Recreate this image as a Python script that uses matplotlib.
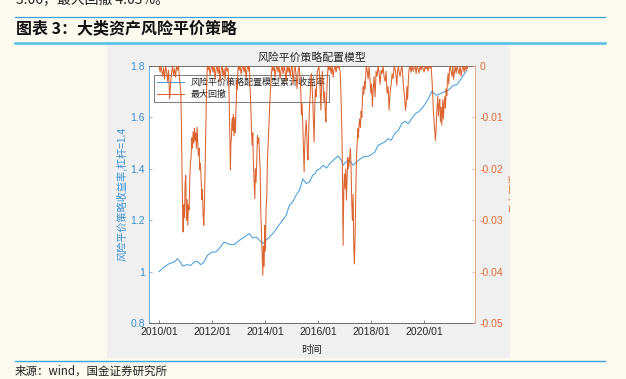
import matplotlib
matplotlib.use("Agg")
import matplotlib.pyplot as plt
import matplotlib.dates as mdates
from matplotlib.patches import Rectangle
from matplotlib.lines import Line2D
import numpy as np
import datetime as dt

plt.rcParams['font.family'] = ['Liberation Sans', 'Noto Sans CJK SC', 'DejaVu Sans']
CJK = ['Noto Sans CJK SC', 'DejaVu Sans']

# ---------------- data ----------------
# cumulative return of the risk-parity model (left axis), decimal years
nav_year = [2010.00, 2010.19, 2010.38, 2010.57, 2010.69, 2010.81, 2010.88, 2011.07, 2011.19, 2011.32,
            2011.44, 2011.57, 2011.69, 2011.82, 2012.00, 2012.13, 2012.26, 2012.45, 2012.58, 2012.70,
            2012.83, 2013.03, 2013.22, 2013.40, 2013.53, 2013.66, 2013.78, 2013.91, 2014.03, 2014.16,
            2014.29, 2014.47, 2014.60, 2014.79, 2014.91, 2015.04, 2015.16, 2015.29, 2015.42, 2015.54,
            2015.67, 2015.79, 2015.88, 2015.94, 2016.06, 2016.18, 2016.31, 2016.43, 2016.56, 2016.75,
            2016.87, 2016.94, 2017.06, 2017.18, 2017.31, 2017.44, 2017.56, 2017.69, 2017.88, 2018.00,
            2018.13, 2018.25, 2018.38, 2018.50, 2018.63, 2018.75, 2018.88, 2019.02, 2019.15, 2019.27,
            2019.40, 2019.52, 2019.65, 2019.77, 2019.90, 2020.03, 2020.15, 2020.28, 2020.38, 2020.47,
            2020.59, 2020.72, 2020.84, 2020.97, 2021.09, 2021.22, 2021.34, 2021.47, 2021.60]
nav_value = [1.000, 1.018, 1.031, 1.037, 1.050, 1.037, 1.022, 1.027, 1.024, 1.037,
             1.040, 1.027, 1.037, 1.063, 1.076, 1.076, 1.089, 1.115, 1.109, 1.105,
             1.105, 1.122, 1.135, 1.148, 1.131, 1.135, 1.122, 1.109, 1.122, 1.135,
             1.148, 1.174, 1.193, 1.219, 1.258, 1.271, 1.297, 1.316, 1.361, 1.342,
             1.349, 1.375, 1.381, 1.394, 1.400, 1.414, 1.403, 1.420, 1.433, 1.450,
             1.433, 1.414, 1.429, 1.433, 1.414, 1.426, 1.437, 1.446, 1.449, 1.455,
             1.465, 1.491, 1.498, 1.504, 1.517, 1.511, 1.537, 1.550, 1.576, 1.585,
             1.576, 1.595, 1.614, 1.621, 1.634, 1.653, 1.673, 1.702, 1.692, 1.686,
             1.692, 1.699, 1.702, 1.712, 1.725, 1.727, 1.744, 1.764, 1.783]

# maximum drawdown (right axis), decimal years
dd_year = [
    2010.000, 2010.038, 2010.075, 2010.132, 2010.170, 2010.207, 2010.245, 2010.283, 2010.320, 2010.358,
    2010.396, 2010.433, 2010.471, 2010.509, 2010.547, 2010.584, 2010.622, 2010.660, 2010.697, 2010.735,
    2010.754,
    2010.818, 2010.841, 2010.867, 2010.893, 2010.905, 2010.931, 2010.954, 2010.980, 2011.006, 2011.029,
    2011.055, 2011.082, 2011.104, 2011.131, 2011.157, 2011.180, 2011.206, 2011.233, 2011.255, 2011.282,
    2011.308, 2011.331, 2011.357, 2011.383, 2011.406, 2011.432, 2011.459, 2011.481, 2011.508, 2011.534,
    2011.557, 2011.583, 2011.609, 2011.632, 2011.659, 2011.685, 2011.708, 2011.734, 2011.760, 2011.783,
    2011.809, 2011.821,
    2011.847, 2011.885, 2011.922, 2011.960, 2011.998, 2012.035, 2012.073, 2012.111, 2012.148, 2012.186,
    2012.224, 2012.262, 2012.299, 2012.337, 2012.375, 2012.412, 2012.450, 2012.488, 2012.525, 2012.563,
    2012.601,
    2012.631, 2012.650, 2012.669, 2012.688, 2012.706, 2012.725, 2012.744, 2012.763, 2012.782, 2012.801,
    2012.820, 2012.838, 2012.857, 2012.876, 2012.895, 2012.914, 2012.933, 2012.952, 2012.970, 2012.989,
    2013.016, 2013.053, 2013.091, 2013.129, 2013.166, 2013.204, 2013.242, 2013.279, 2013.317, 2013.355,
    2013.381, 2013.404,
    2013.430, 2013.456, 2013.479, 2013.505, 2013.532, 2013.554, 2013.581, 2013.607, 2013.630, 2013.656,
    2013.683, 2013.705, 2013.732, 2013.758, 2013.781, 2013.807, 2013.833, 2013.856, 2013.882, 2013.909,
    2013.931, 2013.958, 2013.984, 2014.007, 2014.033, 2014.060, 2014.082, 2014.109, 2014.135, 2014.158,
    2014.184, 2014.210, 2014.233, 2014.259,
    2014.297, 2014.335, 2014.372, 2014.410, 2014.448, 2014.486, 2014.523, 2014.561, 2014.599, 2014.636,
    2014.674, 2014.712, 2014.749, 2014.787, 2014.825, 2014.862, 2014.900, 2014.938, 2014.975, 2015.013,
    2015.051, 2015.089, 2015.126, 2015.164, 2015.202, 2015.239, 2015.277,
    2015.315, 2015.341, 2015.364, 2015.390, 2015.416, 2015.439, 2015.466, 2015.492, 2015.515, 2015.541,
    2015.567, 2015.590, 2015.616, 2015.643, 2015.665, 2015.692, 2015.718, 2015.741, 2015.767, 2015.793,
    2015.816, 2015.842, 2015.869, 2015.891, 2015.918, 2015.944, 2015.967, 2015.993, 2016.020,
    2016.050, 2016.076, 2016.099, 2016.125, 2016.152, 2016.182, 2016.212, 2016.238, 2016.265, 2016.287,
    2016.314, 2016.340, 2016.370, 2016.408, 2016.446, 2016.483, 2016.521, 2016.559, 2016.596, 2016.634,
    2016.672, 2016.709, 2016.747, 2016.785, 2016.822,
    2016.849, 2016.872, 2016.898, 2016.917, 2016.936, 2016.962, 2016.985, 2017.011, 2017.038, 2017.060,
    2017.087, 2017.113, 2017.136, 2017.162, 2017.188, 2017.211, 2017.237, 2017.264, 2017.286, 2017.313,
    2017.339, 2017.362, 2017.388, 2017.414, 2017.437, 2017.463, 2017.490, 2017.512, 2017.539, 2017.565,
    2017.588, 2017.614, 2017.640, 2017.663, 2017.689, 2017.716, 2017.738, 2017.765, 2017.791, 2017.814,
    2017.840, 2017.878, 2017.916, 2017.953, 2017.980, 2018.010, 2018.040, 2018.066, 2018.104, 2018.142,
    2018.179, 2018.217, 2018.255, 2018.292, 2018.330, 2018.368, 2018.406, 2018.443, 2018.481, 2018.519,
    2018.556, 2018.594, 2018.632, 2018.669, 2018.707, 2018.745, 2018.782, 2018.820, 2018.858, 2018.896,
    2018.933, 2018.960, 2018.990, 2019.020, 2019.046, 2019.084, 2019.122, 2019.159, 2019.197, 2019.223,
    2019.253, 2019.284, 2019.310, 2019.340, 2019.367, 2019.397, 2019.423, 2019.461,
    2019.499, 2019.536, 2019.574, 2019.612, 2019.649, 2019.687, 2019.725, 2019.763, 2019.800, 2019.838,
    2019.876, 2019.913, 2019.951, 2019.989, 2020.026, 2020.064, 2020.102, 2020.139, 2020.177, 2020.215,
    2020.252,
    2020.290, 2020.317, 2020.339, 2020.366, 2020.392, 2020.415, 2020.441, 2020.467, 2020.490, 2020.505,
    2020.528, 2020.554, 2020.580, 2020.603, 2020.629, 2020.656, 2020.678, 2020.694, 2020.716, 2020.743,
    2020.769, 2020.792, 2020.818, 2020.844, 2020.867, 2020.893, 2020.920, 2020.942, 2020.969,
    2021.007, 2021.044, 2021.071, 2021.101, 2021.131, 2021.157, 2021.195, 2021.233, 2021.270, 2021.308,
    2021.346, 2021.383, 2021.421, 2021.459, 2021.497, 2021.534, 2021.572, 2021.610, 2021.629]
dd_value = [
    0, -0.0012, 0, -0.0020, -0.0004, -0.0025, 0, -0.0010, -0.0030, -0.0008,
    -0.0064, -0.0035, -0.0012, 0, -0.0018, -0.0005, -0.0022, 0, -0.0008, 0,
    -0.0015,
    -0.0050, -0.0110, -0.0219, -0.0300, -0.0323, -0.0270, -0.0295, -0.0230, -0.0213, -0.0300,
    -0.0260, -0.0310, -0.0270, -0.0280, -0.0219, -0.0190, -0.0177, -0.0140, -0.0160, -0.0128,
    -0.0150, -0.0121, -0.0145, -0.0130, -0.0160, -0.0119, -0.0150, -0.0175, -0.0160, -0.0202,
    -0.0190, -0.0220, -0.0260, -0.0240, -0.0290, -0.0310, -0.0270, -0.0200, -0.0120, -0.0060,
    -0.0010, 0,
    -0.0008, 0, -0.0018, -0.0004, 0, -0.0012, 0, -0.0025, -0.0006, 0,
    -0.0015, 0, -0.0030, -0.0008, 0, -0.0020, -0.0005, -0.0026, 0, -0.0010,
    -0.0004,
    -0.0040, -0.0090, -0.0142, -0.0202, -0.0150, -0.0141, -0.0110, -0.0101, -0.0125, -0.0094,
    -0.0136, -0.0118, -0.0100, -0.0130, -0.0090, -0.0060, -0.0030, -0.0045, -0.0010, 0,
    -0.0008, 0, -0.0016, -0.0004, 0, -0.0012, 0, -0.0023, -0.0005, 0,
    -0.0010, 0,
    -0.0044, -0.0075, -0.0120, -0.0154, -0.0130, -0.0190, -0.0226, -0.0258, -0.0200, -0.0226,
    -0.0180, -0.0135, -0.0150, -0.0140, -0.0170, -0.0200, -0.0284, -0.0321, -0.0368, -0.0407,
    -0.0350, -0.0390, -0.0310, -0.0360, -0.0276, -0.0250, -0.0185, -0.0152, -0.0120, -0.0091,
    -0.0060, -0.0035, -0.0015, 0,
    -0.0010, 0, -0.0022, -0.0005, 0, -0.0012, 0, -0.0025, -0.0008, 0,
    -0.0015, 0, -0.0010, -0.0030, 0, -0.0012, 0, -0.0020, -0.0005, 0,
    -0.0035, -0.0010, 0, -0.0018, -0.0044, -0.0010, 0,
    -0.0021, -0.0050, -0.0095, -0.0073, -0.0115, -0.0160, -0.0206, -0.0150, -0.0128, -0.0105,
    -0.0130, -0.0170, -0.0183, -0.0120, -0.0085, -0.0060, -0.0030, -0.0015, -0.0040, -0.0070,
    -0.0110, -0.0148, -0.0077, -0.0045, -0.0060, -0.0026, -0.0010, -0.0006, 0,
    -0.0020, -0.0053, -0.0086, -0.0040, -0.0010, -0.0035, -0.0070, -0.0050, -0.0090, -0.0109,
    -0.0060, -0.0025, 0, -0.0008, 0, -0.0015, 0, -0.0022, -0.0005, 0,
    -0.0012, 0, -0.0004, 0, -0.0010,
    -0.0046, -0.0090, -0.0150, -0.0250, -0.0349, -0.0236, -0.0210, -0.0239, -0.0200, -0.0261,
    -0.0220, -0.0178, -0.0200, -0.0190, -0.0174, -0.0160, -0.0200, -0.0270, -0.0300, -0.0250,
    -0.0355, -0.0385, -0.0330, -0.0250, -0.0180, -0.0150, -0.0122, -0.0140, -0.0112, -0.0103,
    -0.0120, -0.0088, -0.0100, -0.0065, -0.0040, -0.0055, -0.0030, -0.0045, -0.0015, 0,
    -0.0008, -0.0025, 0, -0.0030, -0.0053, -0.0035, -0.0079, -0.0050, -0.0020, -0.0060,
    -0.0010, -0.0020, 0, -0.0012, -0.0036, -0.0008, -0.0015, 0, -0.0022, -0.0030,
    -0.0010, -0.0053, -0.0040, -0.0086, -0.0050, -0.0036, -0.0015, -0.0025, 0, -0.0005,
    -0.0020, -0.0038, -0.0010, 0, -0.0012, -0.0020, -0.0006, 0, -0.0030, -0.0047,
    -0.0059, -0.0086, -0.0077, -0.0040, -0.0065, -0.0025, -0.0006, 0,
    -0.0012, 0, -0.0010, -0.0004, 0, -0.0015, 0, -0.0006, -0.0014, 0,
    -0.0008, 0, -0.0005, -0.0012, 0, -0.0006, 0, -0.0010, 0, -0.0004,
    0,
    -0.0031, -0.0060, -0.0089, -0.0110, -0.0127, -0.0145, -0.0122, -0.0089, -0.0070, -0.0059,
    -0.0097, -0.0075, -0.0065, -0.0109, -0.0080, -0.0115, -0.0085, -0.0065, -0.0103, -0.0075,
    -0.0060, -0.0082, -0.0045, -0.0058, -0.0030, -0.0015, -0.0035, -0.0008, 0,
    -0.0010, -0.0020, 0, -0.0026, -0.0012, 0, -0.0014, 0, -0.0008, -0.0016,
    0, -0.0020, -0.0006, 0, -0.0012, 0, -0.0008, 0, -0.0005]

x_tick_years = [2010, 2012, 2014, 2016, 2018, 2020]
left_ticks = [0.8, 1.0, 1.2, 1.4, 1.6, 1.8]
left_tick_labels = ['0.8', '1', '1.2', '1.4', '1.6', '1.8']
right_ticks = [-0.05, -0.04, -0.03, -0.02, -0.01, 0]
right_tick_labels = ['-0.05', '-0.04', '-0.03', '-0.02', '-0.01', '0']

chart_title = '风险平价策略配置模型'
legend_labels = ['风险平价策略配置模型累计收益率', '最大回撤']
left_label = '风险平价策略收益率,杠杆=1.4'
right_label = '最大回撤'
x_label = '时间'


def to_dates(years):
    base = dt.datetime(2010, 1, 1)
    return [base + dt.timedelta(days=(y - 2010) * 365.25) for y in years]


# ---------------- figure ----------------
W, H = 626, 379
fig = plt.figure(figsize=(W / 100, H / 100), dpi=100, facecolor='#fcf9ef')

def fx(px):
    return px / W

def fy(py):
    return 1 - py / H

# report rules
fig.add_artist(Line2D([fx(15), fx(605)], [fy(17), fy(17)], color='#3aa6dc', lw=0.9))
fig.add_artist(Line2D([fx(15), fx(605)], [fy(43), fy(43)], color='#55bde6', lw=1.8))
fig.add_artist(Line2D([fx(15), fx(605)], [fy(360.5), fy(360.5)], color='#3aa6dc', lw=1.0))

# grey figure panel
panel = Rectangle((fx(107), fy(358)), fx(510) - fx(107), fy(42) - fy(358),
                  transform=fig.transFigure, facecolor='#f0f0f0', edgecolor='none', zorder=1)
fig.add_artist(panel)

fig.text(fx(16), fy(3.0), '3.06，最大回撤 4.03%。', fontsize=10, color='#222222',
         family=CJK, va='baseline', ha='left')
fig.text(fx(16), fy(33), '图表 3：大类资产风险平价策略', fontsize=11.5, weight='bold',
         color='#111111', family=CJK, va='baseline', ha='left')
fig.text(fx(15), fy(371), '来源：wind，国金证券研究所', fontsize=8.3, color='#222222',
         family=CJK, va='center', ha='left')

# axes
ax = fig.add_axes([fx(149), fy(323), fx(475) - fx(149), fy(66) - fy(323)], zorder=3)
ax.set_facecolor('white')
orange = '#d95319'
l1, = ax.plot(to_dates(nav_year), nav_value, color='#4a9edd', lw=0.75)
ax.set_ylim(0.8, 1.8)
ax.set_yticks(left_ticks)
ax.set_yticklabels(left_tick_labels)
ax.set_xlim(dt.datetime(2009, 8, 15), dt.datetime(2021, 11, 28))
ax.set_xticks([dt.datetime(y, 1, 1) for y in x_tick_years])
ax.xaxis.set_major_formatter(mdates.DateFormatter('%Y/%m'))

ax2 = ax.twinx()
l2, = ax2.plot(to_dates(dd_year), dd_value, color=orange, lw=0.75, alpha=0.9)
ax2.set_ylim(-0.05, 0)
ax2.set_yticks(right_ticks)
ax2.set_yticklabels(right_tick_labels)

for a in (ax, ax2):
    for s in a.spines.values():
        s.set_linewidth(0.6)
ax.spines['right'].set_visible(False)
ax.spines['left'].set_color('#5aa6dd')
ax.spines['top'].set_color('#555555')
ax.spines['bottom'].set_color('#555555')
ax2.spines['left'].set_visible(False)
ax2.spines['top'].set_visible(False)
ax2.spines['bottom'].set_visible(False)
ax2.spines['right'].set_color('#eb9a76')

ax.tick_params(axis='x', direction='in', length=2.5, width=0.5, color='#555555',
               labelsize=7.5, labelcolor='#262626', pad=3)
ax.tick_params(axis='y', direction='in', length=2.5, width=0.5, color='#5aa6dd',
               labelsize=7.5, labelcolor='#3b8fd2', pad=3)
ax2.tick_params(axis='y', direction='in', length=2.5, width=0.5, color='#eb9a76',
                labelsize=7.5, labelcolor='#df6c36', pad=3)

# texts of the chart
fig.text(fx(312), fy(57), chart_title, fontsize=7.8, color='#262626', family=CJK,
         ha='center', va='center', zorder=4)
fig.text(fx(312), fy(350), x_label, fontsize=7.5, color='#262626', family=CJK,
         ha='center', va='center', zorder=4)
fig.text(fx(122), fy(194), left_label, fontsize=7.3, color='#3b8fd2', family=CJK,
         rotation=90, ha='center', va='center', zorder=4)
rt = fig.text(fx(514.5), fy(193), right_label, fontsize=7.3, color='#df6c36', family=CJK,
              rotation=90, ha='center', va='center', zorder=4)
rt.set_clip_path(panel)

leg = ax.legend([l1, l2], legend_labels, loc='upper left',
                bbox_to_anchor=(fx(154), fy(75)), bbox_transform=fig.transFigure,
                prop={'family': CJK, 'size': 6.5}, frameon=True, fancybox=False,
                framealpha=1, facecolor='white', edgecolor='#666666',
                borderpad=0.3, labelspacing=0.3, handlelength=3.0, handletextpad=0.8,
                borderaxespad=0)
leg.get_frame().set_linewidth(0.6)
for t in leg.get_texts():
    t.set_color('#262626')

fig.savefig('out.png', dpi=100, facecolor=fig.get_facecolor())
